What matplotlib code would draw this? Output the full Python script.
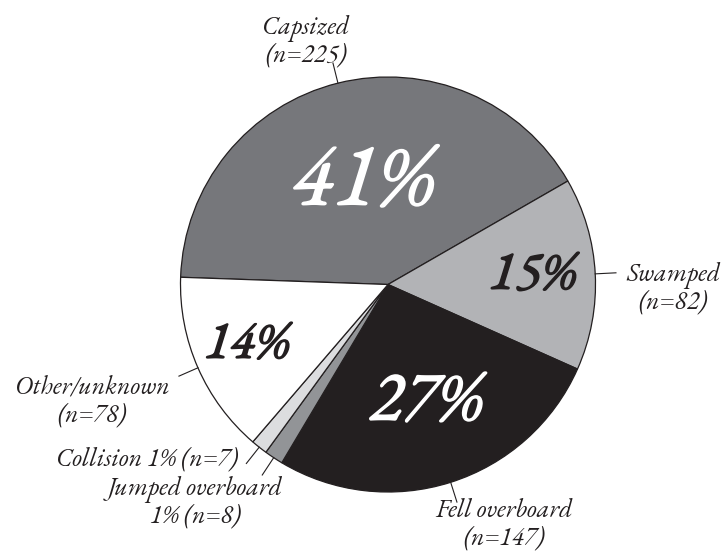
import numpy as np
import matplotlib
matplotlib.use("Agg")
import matplotlib.pyplot as plt
import matplotlib.patheffects as pe
from matplotlib import font_manager
from matplotlib.font_manager import FontProperties

categories = ["Capsized", "Swamped", "Fell overboard", "Jumped overboard", "Collision", "Other/unknown"]
counts = [225, 82, 147, 8, 7, 78]
pct_labels = ["41%", "15%", "27%", "", "", "14%"]
colors = ["#76777b", "#b2b3b6", "#231f20", "#929497", "#dcdddf", "#ffffff"]
pct_colors = ["white", "#231f20", "white", None, None, "#231f20"]
pct_sizes = [64, 39, 51, 0, 0, 38]
pct_radius = [0.49, 0.70, 0.61, 0, 0, 0.74]
name_labels = ["Capsized\n(n=225)", "Swamped\n(n=82)", "Fell overboard\n(n=147)",
               "Jumped overboard\n1% (n=8)", "Collision 1% (n=7)", "Other/unknown\n(n=78)"]


def find_font(names, style):
    for nm in names:
        for f in font_manager.fontManager.ttflist:
            if f.name == nm and f.style == style and f.weight in (400, "normal", "regular"):
                return f.fname
    for nm in names:
        for f in font_manager.fontManager.ttflist:
            if f.name == nm and f.style == style:
                return f.fname
    return None


ital = find_font(["EB Garamond", "Cormorant Garamond", "Liberation Serif"], "italic")


def fp(size):
    if ital:
        return FontProperties(fname=ital, size=size)
    return FontProperties(family="DejaVu Serif", style="italic", size=size)


W, H = 722, 552
fig = plt.figure(figsize=(W / 100, H / 100), dpi=100)
ax = fig.add_axes([0, 0, 1, 1])

cx, cy, R = 388, H - 284.5, 207.5
wedges, _ = ax.pie(counts, colors=colors, startangle=178, counterclock=False,
                   center=(cx, cy), radius=R, frame=True,
                   wedgeprops=dict(edgecolor="#231f20", linewidth=0.9))
ax.set_xlim(0, W)
ax.set_ylim(0, H)
ax.set_aspect("equal")
ax.axis("off")

for i, w in enumerate(wedges):
    mid = np.deg2rad((w.theta1 + w.theta2) / 2)
    if pct_labels[i]:
        r = pct_radius[i] * R
        ax.text(cx + r * np.cos(mid), cy + r * np.sin(mid), pct_labels[i],
                ha="center", va="center", fontproperties=fp(pct_sizes[i]),
                color=pct_colors[i],
                path_effects=[pe.withStroke(linewidth=1.2, foreground=pct_colors[i])])
    ax.plot([cx + R * np.cos(mid), cx + 1.1 * R * np.cos(mid)],
            [cy + R * np.sin(mid), cy + 1.1 * R * np.sin(mid)],
            color="#231f20", linewidth=0.8)

label_pos = [(306, 42, "center"), (673, 289, "center"), (504, 525, "center"),
             (195, 503, "center"), (238, 460, "right"), (92, 402, "center")]
for (x, y, ha), txt in zip(label_pos, name_labels):
    ax.text(x, H - y, txt, ha=ha, va="center", fontproperties=fp(18.5), color="#231f20",
            linespacing=1.02, multialignment="center")

fig.savefig("out.png", dpi=100)
